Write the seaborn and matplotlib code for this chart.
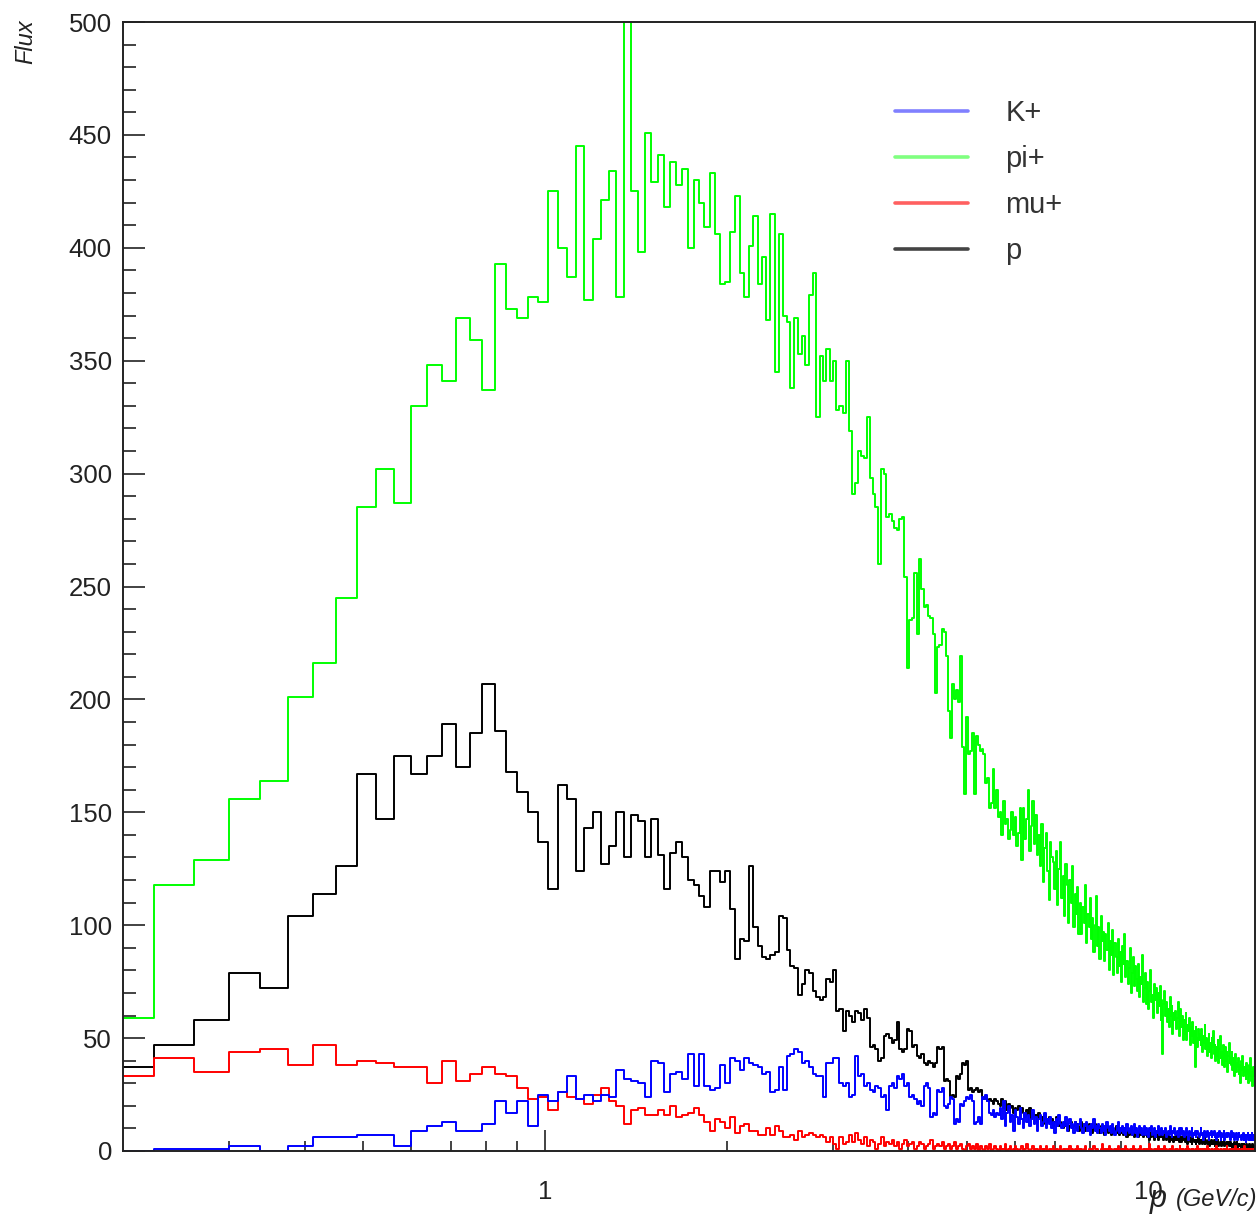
import numpy as np
import pandas as pd
import matplotlib
matplotlib.use("Agg")
import matplotlib.pyplot as plt
import seaborn as sns
from matplotlib.ticker import FixedLocator, FixedFormatter, NullFormatter, MultipleLocator
from matplotlib.lines import Line2D

# ---------------- data (bin contents, bins of 0.0375 GeV/c starting at 0.1875) ----------------
BIN_WIDTH = 0.0375
FIRST_EDGE = 0.1875

pi_plus = [
    59, 118, 129, 156, 164, 201, 216, 245, 285, 302,
    287, 330, 348, 341, 369, 359, 337, 393, 373, 369,
    378, 376, 425, 400, 387, 445, 377, 404, 421, 434,
    378, 520, 425, 398, 451, 429, 441, 418, 438, 428,
    435, 400, 430, 420, 409, 433, 406, 384, 385, 407,
    423, 389, 378, 401, 414, 384, 396, 368, 415, 345,
    406, 370, 367, 338, 369, 353, 361, 348, 379, 389,
    325, 352, 341, 355, 341, 350, 328, 330, 327, 350,
    319, 291, 296, 310, 308, 307, 325, 298, 291, 285,
    260, 302, 300, 281, 282, 279, 276, 275, 280, 281,
    254, 214, 235, 236, 256, 229, 262, 249, 241, 242,
    237, 236, 229, 203, 223, 224, 231, 230, 219, 195,
    183, 207, 200, 204, 199, 219, 179, 158, 192, 176,
    177, 185, 158, 184, 180, 177, 178, 176, 163, 165,
    152, 154, 169, 152, 160, 148, 150, 140, 155, 145,
    147, 138, 142, 150, 140, 148, 135, 141, 152, 129,
    152, 138, 147, 160, 133, 144, 155, 136, 149, 131,
    140, 126, 145, 119, 134, 141, 124, 111, 137, 130,
    128, 116, 133, 109, 125, 137, 112, 122, 104, 127,
    118, 101, 120, 110, 126, 99, 114, 105, 117, 96,
    110, 96, 108, 101, 118, 92, 105, 99, 112, 94,
    103, 88, 100, 113, 91, 99, 85, 104, 93, 97,
    84, 96, 89, 101, 80, 93, 87, 98, 78, 92,
    86, 79, 94, 82, 88, 75, 91, 83, 96, 77,
    84, 74, 81, 90, 70, 79, 86, 73, 82, 76,
    71, 83, 68, 77, 74, 87, 66, 72, 79, 65,
    75, 63, 71, 80, 66, 69, 59, 74, 67, 72,
    61, 70, 64, 73, 58, 67, 43, 65, 71, 60,
    66, 57, 63, 55, 68, 60, 64, 52, 61, 58,
    62, 54, 59, 66, 51, 57, 63, 55, 60, 49,
    58, 52, 61, 49, 56, 53, 59, 47, 55, 51,
    57, 48, 53, 37, 55, 50, 46, 54, 49, 52,
    47, 54, 44, 51, 48, 56, 45, 50, 42, 49,
    52, 44, 48, 41, 50, 46, 53, 43, 47, 40,
    46, 42, 49, 39, 45, 51, 41, 44, 38, 47,
    43, 37, 46, 40, 44, 35, 42, 48, 39, 41,
    38, 44, 36, 41, 33, 40, 43, 35, 39, 37,
    41, 34, 38, 30, 40, 36, 42, 33, 37, 35,
    37, 32, 39, 34, 36, 30, 38, 33, 41, 31,
    35, 29, 37, 33, 36,
]

proton = [
    37, 47, 58, 79, 72, 104, 114, 126, 167, 147,
    175, 167, 175, 189, 170, 185, 207, 186, 168, 159,
    150, 137, 116, 162, 156, 124, 143, 150, 127, 135,
    150, 130, 149, 146, 130, 147, 131, 116, 132, 137,
    130, 120, 118, 113, 108, 124, 124, 119, 124, 107,
    85, 94, 93, 126, 99, 91, 86, 85, 87, 88,
    104, 103, 89, 82, 81, 69, 74, 80, 79, 71,
    68, 67, 68, 76, 75, 80, 62, 63, 53, 62,
    60, 57, 62, 61, 58, 63, 59, 46, 47, 45,
    40, 41, 51, 52, 50, 48, 49, 57, 45, 44,
    45, 54, 53, 46, 47, 42, 41, 43, 39, 38,
    40, 39, 37, 39, 46, 45, 46, 31, 32, 31,
    24, 25, 24, 33, 32, 34, 39, 38, 40, 27,
    28, 26, 27, 28, 26, 27, 24, 23, 24, 22,
    23, 22, 21, 23, 22, 21, 20, 23, 19, 22,
    18, 21, 19, 20, 17, 19, 18, 20, 16, 19,
    17, 15, 18, 16, 19, 14, 17, 15, 16, 13,
    17, 14, 15, 12, 16, 14, 13, 15, 12, 14,
    11, 13, 15, 12, 11, 13, 12, 10, 13, 11,
    12, 9, 11, 13, 10, 11, 13, 10, 12, 9,
    11, 13, 10, 12, 9, 11, 10, 12, 9, 11,
    8, 10, 12, 9, 10, 10, 8, 11, 9, 10,
    7, 9, 11, 8, 10, 9, 7, 10, 8, 9,
    11, 8, 9, 7, 9, 8, 9, 7, 10, 8,
    6, 9, 7, 8, 10, 7, 8, 6, 9, 7,
    8, 6, 8, 7, 9, 7, 6, 8, 7, 9,
    6, 7, 5, 8, 6, 7, 8, 5, 7, 6,
    8, 5, 7, 6, 7, 6, 7, 5, 6, 8,
    5, 6, 7, 4, 6, 5, 7, 6, 4, 6,
    5, 7, 5, 6, 4, 5, 6, 4, 6, 5,
    7, 4, 5, 6, 3, 5, 6, 4, 5, 3,
    6, 5, 4, 5, 3, 5, 4, 6, 3, 5,
    4, 5, 3, 4, 6, 3, 5, 4, 3, 5,
    4, 2, 4, 5, 3, 4, 3, 5, 2, 4,
    3, 4, 5, 2, 3, 4, 3, 2, 4, 3,
    5, 2, 3, 4, 2, 3, 4, 2, 3, 4,
    2, 3, 1, 3, 4, 2, 3, 2, 4, 1,
    3, 2, 3, 2, 1, 3, 2, 1, 3, 2,
    2, 1, 3, 2, 1, 2, 3, 1, 2, 2,
    1, 3, 1, 2, 1,
]

mu_plus = [
    33, 41, 35, 44, 45, 38, 47, 38, 40, 39,
    37, 37, 30, 40, 31, 34, 37, 34, 33, 28,
    23, 24, 18, 26, 24, 23, 21, 25, 28, 22,
    20, 12, 18, 19, 16, 16, 18, 16, 20, 15,
    16, 17, 19, 16, 13, 9, 14, 13, 10, 15,
    8, 11, 12, 9, 9, 7, 7, 10, 7, 11,
    9, 6, 6, 7, 5, 9, 6, 7, 8, 7,
    6, 7, 6, 4, 6, 3, 1, 6, 3, 4,
    7, 4, 8, 5, 3, 6, 2, 5, 4, 1,
    3, 6, 2, 4, 3, 5, 2, 4, 1, 3,
    5, 2, 3, 4, 1, 2, 4, 3, 1, 2,
    3, 5, 1, 2, 3, 2, 4, 1, 2, 3,
    1, 2, 4, 1, 2, 3, 1, 0, 2, 3,
    1, 2, 1, 3, 0, 2, 1, 0, 2, 1,
    3, 0, 1, 2, 1, 0, 2, 1, 1, 3,
    0, 1, 2, 0, 1, 2, 1, 0, 1, 2,
    0, 1, 3, 1, 0, 1, 2, 0, 1, 1,
    0, 2, 1, 0, 1, 2, 0, 1, 0, 1,
    2, 0, 1, 1, 0, 2, 0, 1, 0, 1,
    1, 0, 2, 0, 1, 0, 1, 0, 2, 1,
    0, 1, 0, 1, 2, 0, 0, 1, 0, 1,
    0, 2, 1, 0, 1, 0, 0, 1, 3, 0,
    1, 0, 1, 0, 2, 0, 1, 0, 0, 1,
    0, 1, 2, 0, 0, 1, 0, 1, 0, 2,
    1, 0, 0, 1, 0, 1, 2, 0, 1, 0,
    0, 1, 0, 2, 0, 0, 1, 0, 1, 0,
    1, 0, 3, 0, 1, 0, 0, 1, 0, 1,
    0, 2, 0, 1, 0, 0, 1, 0, 2, 0,
    1, 0, 0, 1, 0, 1, 0, 2, 0, 0,
    1, 0, 1, 0, 0, 2, 0, 1, 0, 1,
    0, 0, 1, 0, 2, 0, 1, 0, 0, 1,
    0, 1, 0, 0, 1, 0, 2, 0, 1, 0,
    0, 1, 0, 1, 0, 0, 1, 0, 2, 0,
    1, 0, 0, 1, 0, 1, 0, 0, 1, 0,
    2, 0, 1, 0, 0, 1, 0, 1, 0, 0,
    1, 0, 1, 0, 2, 0, 0, 1, 0, 1,
    0, 0, 1, 0, 1, 0, 2, 0, 0, 1,
    0, 1, 0, 0, 1, 0, 1, 0, 0, 2,
    0, 1, 0, 1, 0, 0, 1, 0, 1, 0,
    0, 1, 0, 0, 1,
]

k_plus = [
    0, 1, 1, 2, 0, 2, 6, 6, 7, 7,
    2, 9, 11, 13, 9, 9, 12, 22, 17, 22,
    11, 25, 22, 26, 33, 23, 25, 22, 25, 24,
    36, 32, 31, 30, 24, 40, 39, 26, 34, 35,
    32, 43, 29, 43, 29, 27, 28, 38, 30, 41,
    40, 36, 41, 39, 38, 37, 34, 35, 26, 27,
    37, 27, 42, 43, 45, 44, 39, 40, 37, 34,
    33, 33, 24, 39, 39, 41, 41, 30, 29, 30,
    24, 25, 42, 33, 34, 29, 30, 27, 26, 29,
    28, 24, 25, 18, 29, 30, 28, 33, 32, 34,
    29, 30, 24, 25, 23, 21, 22, 20, 29, 30,
    28, 15, 17, 16, 27, 26, 28, 20, 19, 21,
    24, 23, 12, 14, 13, 21, 20, 22, 24, 23,
    25, 22, 12, 13, 15, 12, 24, 23, 25, 22,
    17, 16, 18, 15, 17, 16, 19, 14, 22, 11,
    17, 20, 13, 16, 9, 18, 15, 12, 19, 14,
    10, 17, 13, 16, 11, 14, 18, 12, 15, 9,
    14, 16, 11, 13, 17, 10, 14, 12, 15, 10,
    13, 8, 14, 11, 16, 12, 10, 13, 11, 15,
    9, 12, 14, 10, 12, 8, 13, 11, 9, 12,
    14, 10, 8, 12, 11, 13, 9, 11, 7, 12,
    10, 14, 9, 11, 8, 12, 10, 8, 12, 9,
    11, 7, 13, 10, 9, 11, 8, 12, 10, 7,
    9, 11, 13, 8, 10, 9, 11, 8, 10, 7,
    12, 9, 8, 10, 11, 7, 9, 12, 8, 10,
    6, 9, 11, 8, 10, 7, 9, 11, 7, 10,
    8, 6, 10, 9, 11, 7, 8, 10, 6, 9,
    8, 11, 7, 9, 8, 10, 7, 9, 8, 10,
    6, 8, 9, 7, 11, 8, 6, 9, 8, 10,
    7, 8, 9, 6, 10, 7, 8, 10, 7, 9,
    6, 8, 7, 10, 8, 5, 9, 7, 8, 10,
    6, 8, 7, 9, 6, 8, 9, 7, 6, 8,
    10, 7, 8, 5, 9, 7, 8, 6, 9, 7,
    5, 8, 7, 9, 6, 8, 7, 9, 6, 8,
    5, 7, 8, 6, 9, 7, 5, 8, 6, 7,
    9, 5, 7, 8, 6, 7, 8, 6, 7, 5,
    9, 7, 6, 8, 5, 7, 6, 8, 7, 5,
    6, 8, 7, 6, 5, 7, 6, 8, 5, 7,
    6, 4, 7, 6, 8, 5, 6, 7, 5, 6,
    8, 5, 6, 7, 5,
]

labels = ["K+", "pi+", "mu+", "p"]
series = [k_plus, pi_plus, mu_plus, proton]
y_ticks = [0, 50, 100, 150, 200, 250, 300, 350, 400, 450, 500]
x_major = [1, 10]
x_major_labels = ["1", "10"]

# ---------------- build long-form table ----------------
n_bins = len(pi_plus)
assert all(len(s) == n_bins for s in series), [len(s) for s in series]
edges = FIRST_EDGE + BIN_WIDTH * np.arange(n_bins + 1)
centers = 0.5 * (edges[:-1] + edges[1:])
df = pd.concat(
    [pd.DataFrame({"p": centers, "flux": vals, "particle": name})
     for name, vals in zip(labels, series)],
    ignore_index=True,
)

# ---------------- figure ----------------
sns.set_style("white")
plt.rcParams["font.family"] = ["Liberation Sans", "DejaVu Sans"]

W, H = 1258, 1215
fig = plt.figure(figsize=(W / 100, H / 100), dpi=100)
ax = fig.add_axes([123 / W, 64 / H, 1132 / W, 1129 / H])

palette = {"K+": "#0000ff", "pi+": "#00ff00", "mu+": "#ff0000", "p": "#000000"}
sns.histplot(
    data=df, x="p", weights="flux", hue="particle", hue_order=labels,
    bins=edges.tolist(), element="step", fill=False, palette=palette,
    linewidth=1.4, legend=False, ax=ax,
)

ax.set_xscale("log")
ax.set_xlim(0.2, 15)
ax.set_ylim(0, 500)

# y axis ticks
ax.yaxis.set_major_locator(FixedLocator(y_ticks))
ax.yaxis.set_minor_locator(MultipleLocator(10))
ax.yaxis.set_major_formatter(FixedFormatter([str(v) for v in y_ticks]))

# x axis ticks
ax.xaxis.set_major_locator(FixedLocator(x_major))
ax.xaxis.set_major_formatter(FixedFormatter(x_major_labels))
minor_x = [0.3, 0.4, 0.5, 0.6, 0.7, 0.8, 0.9, 2, 3, 4, 5, 6, 7, 8, 9]
ax.xaxis.set_minor_locator(FixedLocator(minor_x))
ax.xaxis.set_minor_formatter(NullFormatter())

tick_col = "#222222"
ax.tick_params(axis="y", which="major", direction="in", length=16, width=1.2,
               labelsize=18.5, pad=8, left=True, right=False, colors=tick_col)
ax.tick_params(axis="y", which="minor", direction="in", length=9, width=1.2,
               left=True, right=False, colors=tick_col)
ax.tick_params(axis="x", which="major", direction="in", length=15, width=1.2,
               labelsize=18.5, pad=21, bottom=True, top=False, colors=tick_col)
ax.tick_params(axis="x", which="minor", direction="in", length=7.5, width=1.2,
               bottom=True, top=False, colors=tick_col)

for sp in ax.spines.values():
    sp.set_visible(True)
    sp.set_linewidth(1.4)
    sp.set_color(tick_col)

ax.set_xlabel("")
ax.set_ylabel("")

# axis titles (ROOT style)
fig.text(26 / W, 1 - 19 / H, "Flux", rotation=90, ha="center", va="top",
         fontsize=17, style="italic", color=tick_col)
fig.text(1158 / W, 1 - 1207 / H, "p", ha="center", va="baseline",
         fontsize=22, style="italic", color=tick_col)
fig.text(1257 / W, 1 - 1206 / H, "(GeV/c)", ha="right", va="baseline",
         fontsize=17, style="italic", color=tick_col)

# legend
legend_colors = ["#8080ff", "#80ff80", "#ff6060", "#444444"]
handles = [Line2D([], [], color=c, linewidth=2.6) for c in legend_colors]
ax.legend(handles, labels, loc="upper left",
          bbox_to_anchor=((895 - 123) / 1132, (1151 - 99) / 1129),
          frameon=False, fontsize=21, handlelength=2.5, handletextpad=1.29,
          labelspacing=0.62, borderpad=0, borderaxespad=0,
          labelcolor="#333333")

fig.savefig("out.png", dpi=100)
